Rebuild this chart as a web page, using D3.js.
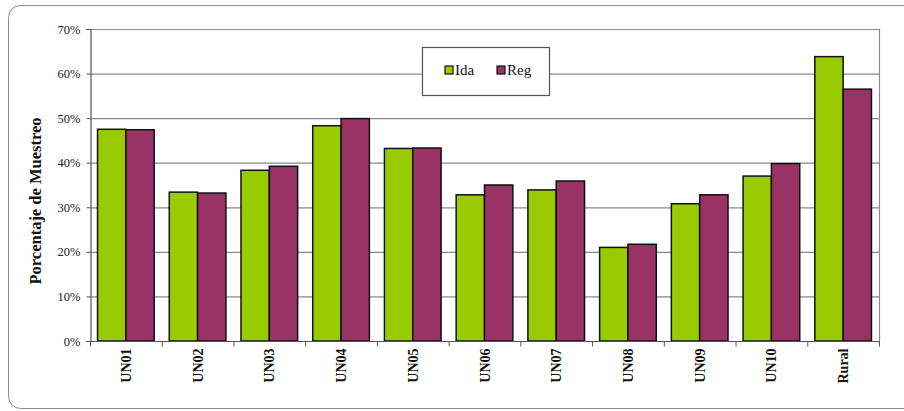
<!DOCTYPE html>
<html><head><meta charset="utf-8">
<script src="https://cdn.jsdelivr.net/npm/d3@7"></script>
<style>
html,body{margin:0;padding:0;background:#fff;}
svg{display:block;}
svg text{font-family:"Liberation Serif", "Times New Roman", serif;}
</style></head>
<body>
<svg id="chart" width="904" height="411"></svg>
<script>
const categories = ["UN01","UN02","UN03","UN04","UN05","UN06","UN07","UN08","UN09","UN10","Rural"];
const seriesNames = ["Ida","Reg"];
const idaValues = [47.5,33.4,38.3,48.3,43.2,32.8,33.9,21.0,30.8,37.0,63.8];
const regValues = [47.4,33.2,39.2,49.9,43.3,35.0,35.9,21.7,32.8,39.8,56.5];
const yTicks = [0,10,20,30,40,50,60,70];
const colors = ["#99CC00","#993366"];

const svg = d3.select("#chart");

// outer rounded border
svg.append("rect").attr("x",8.5).attr("y",5.5).attr("width",920).attr("height",403)
  .attr("rx",12).attr("fill","none").attr("stroke","#8c8c8c").attr("stroke-width",1);

const pL = 90, pR = 879, pT = 29, pB = 341;
const x0 = d3.scaleBand().domain(categories).range([pL,pR]).paddingInner(0.21).paddingOuter(0.105);
const x1 = d3.scaleBand().domain(seriesNames).range([0,x0.bandwidth()]);
const y = d3.scaleLinear().domain([0,70]).range([pB,pT]);

// gridlines
svg.append("g").selectAll("line").data(yTicks.filter(d=>d>0)).join("line")
  .attr("x1",pL).attr("x2",pR).attr("y1",d=>y(d)+0.5).attr("y2",d=>y(d)+0.5)
  .attr("stroke","#8a8a8a").attr("stroke-width",1.2);
// right border
svg.append("line").attr("x1",pR+0.5).attr("x2",pR+0.5).attr("y1",pT).attr("y2",pB)
  .attr("stroke","#8a8a8a").attr("stroke-width",1.2);

// bars
const data = categories.map((c,i)=>({cat:c, vals:[idaValues[i],regValues[i]]}));
const groups = svg.append("g").selectAll("g").data(data).join("g")
  .attr("transform",d=>`translate(${x0(d.cat)},0)`);
groups.selectAll("rect").data(d=>d.vals.map((v,j)=>({v,s:seriesNames[j],j}))).join("rect")
  .attr("x",d=>x1(d.s)).attr("width",x1.bandwidth())
  .attr("y",d=>y(d.v)).attr("height",d=>y(0)-y(d.v))
  .attr("fill",d=>colors[d.j]).attr("stroke","#111").attr("stroke-width",1.5);

// y axis
const yAxis = d3.axisLeft(y).tickValues(yTicks).tickFormat(d=>d+"%").tickSize(4).tickPadding(6);
const gy = svg.append("g").attr("transform",`translate(${pL+0.5},0)`).call(yAxis);
gy.attr("font-family",null).attr("font-size",null);
gy.select(".domain").attr("stroke","#555").attr("stroke-width",1.2);
gy.selectAll(".tick line").attr("stroke","#555");
gy.selectAll("text").attr("font-size",12.5).attr("fill","#222");

// x axis with ticks at category boundaries
const gx = svg.append("g").attr("transform",`translate(0,${pB+0.5})`);
gx.append("line").attr("x1",pL).attr("x2",pR+1).attr("stroke","#555").attr("stroke-width",1.2);
const step = (pR-pL)/categories.length;
const boundaries = d3.range(categories.length+1).map(i=>pL+i*step);
gx.selectAll("line.tk").data(boundaries).join("line").attr("class","tk")
  .attr("x1",d=>d+0.5).attr("x2",d=>d+0.5).attr("y1",0).attr("y2",5).attr("stroke","#555");
gx.selectAll("text").data(categories).join("text")
  .attr("transform",d=>`translate(${x0(d)+x0.bandwidth()/2+5},${7}) rotate(-90)`)
  .attr("text-anchor","end").attr("font-weight","bold")
  .attr("font-size",14).attr("fill","#111").text(d=>d);

// y title
svg.append("text").attr("transform",`translate(41,${(pT+pB)/2+16}) rotate(-90)`)
  .attr("text-anchor","middle").attr("font-weight","bold")
  .attr("font-size",16.5).attr("fill","#111").text("Porcentaje de Muestreo");

// legend
const lg = svg.append("g");
lg.append("rect").attr("x",422.5).attr("y",47.5).attr("width",127).attr("height",48)
  .attr("fill","#fff").attr("stroke","#555").attr("stroke-width",1.2);
const lx = [445,497];
seriesNames.forEach((s,i)=>{
  lg.append("rect").attr("x",lx[i]).attr("y",66).attr("width",8).attr("height",8)
    .attr("fill",colors[i]).attr("stroke","#111").attr("stroke-width",1.2);
  lg.append("text").attr("x",lx[i]+10).attr("y",75).attr("font-size",15)
    .attr("fill","#111").text(s);
});
</script>
</body></html>
